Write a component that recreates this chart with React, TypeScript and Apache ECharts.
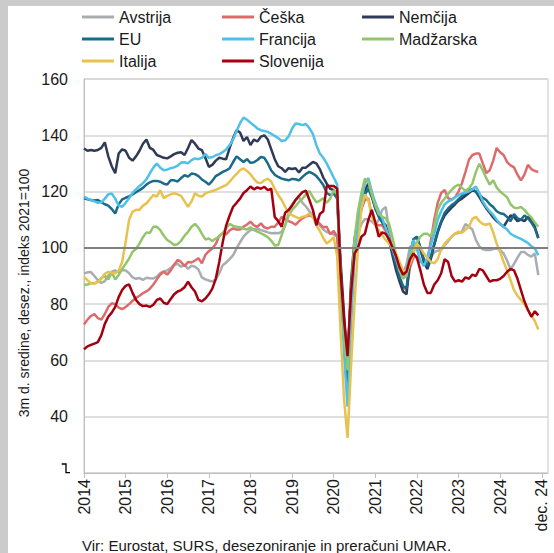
import React, { useEffect, useRef } from "react";
import * as echarts from "echarts";

const FONT = "'Liberation Sans', Arial, sans-serif";
const TEXT = "#1a1a1a";

const names = ["Avstrija", "Češka", "Nemčija", "EU", "Francija", "Madžarska", "Italija", "Slovenija"];
const colors = ["#a9acb1", "#de6b6b", "#2e3a56", "#1a6b8a", "#4fc0e8", "#93c66c", "#e8c24e", "#a5000f"];

const avstrija = [
  90.9, 91.3, 91.4, 90.0, 88.5, 87.5, 88.2, 90.2, 91.5, 92.0,
  91.4, 92.1, 92.0, 91.0, 89.5, 89.0, 89.3, 88.6, 89.4, 89.2,
  89.1, 89.8, 91.0, 91.6, 92.0, 92.8, 94.0, 94.3, 93.3, 94.0,
  92.5, 93.7, 93.3, 92.3, 89.5, 88.8, 88.4, 88.0, 88.8, 91.0,
  93.8, 94.8, 96.0, 97.4, 99.8, 102.0, 104.0, 105.3, 106.3, 106.7,
  106.8, 106.3, 106.0, 105.5, 105.2, 105.3, 105.2, 105.7, 108.0, 112.5,
  115.5, 117.0, 118.0, 116.0, 114.7, 113.0, 111.5, 110.0, 108.0, 106.5,
  105.6, 105.3, 104.8, 104.0, 88.0, 68.0, 57.5, 82.0, 100.0, 105.0,
  108.5, 110.3, 110.0, 109.3, 108.2, 110.0, 113.5, 114.5, 106.0, 98.0,
  93.5, 92.2, 91.2, 94.0, 100.5, 100.4, 100.4, 98.5, 95.5, 93.5,
  96.5, 98.5, 99.0, 99.2, 101.0, 102.3, 104.0, 105.0, 105.3, 105.8,
  108.5, 107.5, 106.5, 102.8, 100.5, 99.5, 99.2, 99.2, 99.6, 99.8,
  99.2, 98.0, 95.5, 92.3, 94.3, 96.5, 98.5, 98.5, 97.5, 96.9, 98.0, 90.3,
];

const ceska = [
  72.8, 74.5, 75.8, 76.5, 75.0, 74.5, 76.5, 79.0, 80.3, 80.0,
  78.8, 78.2, 79.0, 80.0, 81.2, 82.2, 83.0, 83.9, 84.5, 85.5,
  87.0, 88.8, 90.5, 91.5, 90.5, 92.0, 94.0, 95.7, 95.0, 93.5,
  95.0, 94.8, 95.5, 96.3, 94.5, 97.5, 98.8, 99.8, 101.4, 104.2,
  105.2, 104.8, 106.2, 106.9, 106.5, 106.5, 107.5, 108.3, 109.3, 108.0,
  107.5, 108.7, 107.3, 106.9, 107.5, 107.5, 109.0, 111.0, 110.2, 109.5,
  109.0, 108.2, 109.5, 110.5, 111.2, 111.6, 111.0, 110.0, 108.5, 107.3,
  107.5, 104.8, 106.0, 104.0, 86.0, 67.0, 58.0, 85.0, 101.0, 109.0,
  114.0, 117.0, 117.6, 111.5, 108.5, 108.0, 108.0, 106.0, 102.5, 98.5,
  94.5, 90.0, 86.0, 85.0, 93.0, 96.5, 97.0, 95.0, 94.5, 95.5,
  102.5, 110.0, 116.0, 119.5, 120.6, 117.6, 117.2, 118.0, 120.0, 123.0,
  127.0, 131.3, 133.0, 133.5, 133.5, 130.0, 126.6, 127.6, 131.0, 135.5,
  134.0, 133.0, 130.5, 129.3, 128.6, 126.0, 124.0, 126.0, 129.5, 128.0, 127.3, 127.0,
];

const nemcija = [
  135.3, 134.5, 134.8, 134.5, 134.8, 135.5, 137.5, 132.5, 129.0, 126.5,
  133.5, 135.0, 134.5, 132.0, 131.0, 132.5, 134.5, 137.0, 138.5, 135.5,
  134.8, 133.0, 132.5, 132.0, 131.8, 132.5, 133.3, 133.8, 134.0, 133.0,
  135.5, 138.3, 137.0, 135.3, 134.7, 132.0, 128.8, 129.5, 131.0, 132.0,
  131.7, 131.5, 135.5, 139.0, 141.8, 141.0, 138.0, 139.4, 136.5, 138.5,
  137.8, 139.5, 140.0, 138.5, 135.0, 131.5, 129.0, 128.3, 127.0, 128.3,
  128.0, 128.3, 126.8, 128.5, 128.5, 129.5, 130.5, 130.0, 128.0, 125.0,
  122.8, 121.0, 120.5, 118.5, 95.0, 76.0, 59.0, 88.0, 103.0, 110.0,
  116.0, 120.5, 122.8, 119.0, 114.0, 111.5, 109.5, 108.0, 102.5, 97.0,
  92.0, 88.0, 84.5, 83.5, 96.0, 103.0, 104.0, 100.0, 95.0, 92.5,
  96.0, 101.0, 105.5, 109.0, 111.5, 113.0, 114.3, 115.5, 116.8, 117.5,
  118.5, 119.5, 120.5, 120.0, 118.0, 116.0, 114.0, 112.5, 110.8, 109.5,
  108.5, 107.5, 109.5, 111.5, 111.0, 109.5, 110.0, 109.5, 111.0, 110.0, 107.5, 103.5,
];

const eu = [
  117.6, 117.3, 117.0, 116.8, 117.0, 116.2, 115.5, 115.0, 113.8, 112.2,
  115.5, 117.2, 117.8, 118.3, 119.0, 119.8, 120.5, 121.3, 122.5, 123.3,
  123.8, 123.8, 123.5, 122.8, 122.5, 124.0, 124.0, 123.6, 124.8, 125.8,
  125.3, 126.4, 126.2, 125.5, 124.3, 123.5, 122.5, 123.8, 125.5, 126.2,
  127.0, 127.5, 128.3, 130.5, 132.5, 131.5, 130.5, 131.5, 130.2, 130.4,
  131.2, 132.3, 132.0, 130.0, 127.5, 126.0, 125.2, 124.6, 124.3, 124.0,
  124.5, 124.4, 124.0, 125.2, 126.3, 127.0, 126.4, 125.5, 124.0, 122.3,
  119.5, 118.7, 119.3, 117.5, 92.0, 70.0, 52.0, 80.0, 99.0, 107.0,
  114.0, 119.0, 121.0, 118.0, 114.0, 111.0, 109.0, 107.0, 103.5, 98.5,
  94.0, 89.5, 86.5, 85.5, 97.0, 103.0, 104.0, 100.0, 96.0, 93.5,
  97.0, 101.5, 106.0, 109.5, 112.5, 114.0, 115.2, 116.0, 117.3, 118.5,
  119.8, 120.5, 120.8, 120.0, 118.8, 117.8, 117.0, 115.5, 114.5, 113.0,
  112.3, 112.0, 111.0, 109.5, 112.0, 110.5, 110.0, 111.5, 110.5, 109.0, 107.0, 103.5,
];

const francija = [
  118.2, 117.5, 117.0, 116.5, 116.0, 116.2, 117.5, 119.0, 119.3, 117.5,
  115.0, 114.6, 116.0, 117.6, 119.5, 120.8, 122.0, 123.0, 124.3, 126.5,
  128.5, 130.0, 128.5, 127.6, 127.8, 128.3, 128.6, 129.2, 130.3, 130.4,
  130.0, 131.2, 131.8, 131.5, 132.0, 133.3, 132.0, 132.2, 132.9, 133.3,
  134.0, 135.0, 136.5, 138.5, 141.5, 144.3, 146.3, 145.5, 144.5, 143.5,
  142.4, 141.8, 141.5, 141.2, 140.5, 139.8, 139.0, 138.0, 138.2, 139.6,
  142.4, 144.2, 144.0, 143.6, 144.0, 142.5, 140.5, 136.5, 133.5, 132.0,
  130.0, 127.5, 125.0, 122.5, 88.0, 62.0, 43.6, 72.0, 96.0, 107.0,
  117.0, 122.9, 124.8, 120.0, 116.0, 113.0, 110.5, 107.0, 103.5, 99.5,
  96.0, 92.0, 89.7, 91.0, 98.0, 102.8, 99.5, 95.5, 93.5, 96.5,
  101.0, 105.0, 110.0, 113.0, 115.5, 116.5, 117.0, 118.0, 118.8, 119.3,
  119.7, 120.0, 120.8, 121.8, 119.5, 116.5, 114.5, 113.0, 111.7, 110.0,
  108.5, 107.5, 106.5, 105.0, 104.3, 103.7, 103.2, 102.5, 101.8, 100.5, 99.8, 97.4,
];

const madzarska = [
  86.8, 87.0, 87.4, 87.4, 88.0, 89.3, 90.0, 88.8, 91.3, 88.8,
  90.3, 92.5, 94.3, 96.2, 98.6, 99.6, 101.5, 103.8, 105.5, 105.3,
  107.5, 107.5, 106.3, 104.3, 102.8, 102.0, 101.0, 101.3, 102.5, 104.3,
  105.7, 107.5, 108.5, 107.2, 105.0, 103.0, 103.3, 102.4, 103.3, 104.0,
  105.3, 107.0, 108.5, 107.8, 107.5, 107.3, 106.8, 106.5, 107.3, 106.3,
  105.8, 105.2, 104.5, 103.8, 102.5, 100.8, 101.0, 104.5, 108.0, 111.5,
  113.5, 114.8, 116.3, 117.5, 119.0, 120.2, 118.0, 116.2, 116.8, 117.6,
  116.0, 117.5, 120.5, 119.0, 90.0, 70.0, 56.5, 84.0, 103.0, 113.0,
  119.5, 124.6, 123.5, 119.0, 115.0, 112.0, 111.0, 110.5, 108.5, 103.5,
  97.5, 92.0, 89.0, 90.0, 97.0, 100.0, 101.8, 104.0, 105.0, 105.0,
  104.0, 107.5, 113.5, 116.0, 117.5, 119.2, 120.6, 121.8, 122.5, 121.3,
  120.2, 121.2, 122.9, 127.0, 129.9, 127.5, 124.8, 122.5, 124.0, 121.5,
  120.0, 119.0, 118.0, 115.5, 114.3, 114.1, 114.5, 113.5, 112.0, 110.8, 109.0, 107.5,
];

const italija = [
  89.7, 88.5, 87.4, 87.3, 87.8, 89.0, 90.8, 91.5, 91.2, 91.0,
  92.0, 95.0, 102.0, 110.0, 112.8, 113.5, 113.5, 115.0, 115.8, 117.3,
  118.8, 118.2, 120.5, 117.6, 118.5, 119.0, 119.4, 119.0, 118.5, 116.5,
  114.6, 116.5, 119.4, 118.5, 118.2, 119.4, 119.8, 120.2, 120.6, 121.2,
  121.8, 122.3, 123.5, 125.0, 126.3, 127.6, 128.2, 127.3, 126.2, 124.5,
  123.2, 123.0, 124.0, 124.6, 123.5, 121.0, 118.8, 117.0, 114.6, 112.2,
  111.6, 111.0, 110.5, 111.0, 111.3, 112.2, 111.0, 108.0, 106.0, 103.5,
  101.5, 102.5, 103.8, 97.0, 70.0, 46.0, 32.5, 58.0, 80.0, 100.0,
  114.0, 119.0, 117.0, 111.0, 108.0, 106.3, 104.5, 102.8, 101.5, 100.0,
  98.0, 95.0, 92.0, 91.0, 94.5, 98.0, 101.5, 100.0, 98.0, 96.5,
  95.0, 94.5, 96.0, 99.5, 101.5, 102.8, 104.0, 105.0, 105.8, 105.3,
  106.5, 107.5, 110.3, 111.0, 109.5, 108.5, 108.2, 108.7, 105.5, 101.5,
  98.5, 95.0, 92.0, 88.5, 85.0, 83.0, 81.5, 80.0, 78.0, 76.0, 74.0, 71.0,
];

const slovenija = [
  64.0, 65.0, 65.5, 66.0, 66.5, 69.0, 73.0, 75.5, 77.0, 79.0,
  82.5, 85.0, 86.5, 87.0, 84.0, 81.5, 80.0, 79.3, 79.5, 79.0,
  79.8, 81.5, 82.0, 80.5, 80.0, 81.8, 83.5, 84.5, 85.0, 86.0,
  88.0, 86.0, 84.5, 81.5, 81.0, 82.0, 83.5, 85.5, 89.0, 95.0,
  102.0, 108.0, 111.5, 114.6, 116.0, 117.5, 119.5, 120.5, 121.8, 120.8,
  121.5, 121.0, 121.7, 120.5, 121.0, 111.0, 109.5, 107.5, 112.5, 113.5,
  115.0, 117.0, 118.5, 119.8, 120.3, 117.0, 113.5, 108.0, 112.0, 113.0,
  122.0, 122.0, 122.0, 121.0, 91.0, 74.0, 61.5, 84.0, 98.0, 100.0,
  104.0, 105.0, 110.0, 113.5, 109.0, 104.0, 105.5, 105.0, 103.0, 100.0,
  97.0, 93.0, 90.5, 91.5, 96.0, 98.0, 96.5, 92.0, 87.0, 84.0,
  84.0, 87.0, 88.5, 91.0, 96.0, 95.0, 90.0, 88.0, 88.5, 88.0,
  89.5, 89.0, 90.5, 90.0, 92.5, 92.0, 90.0, 88.0, 88.5, 88.5,
  89.0, 90.0, 91.5, 92.5, 92.0, 89.0, 85.0, 81.0, 78.0, 75.5, 77.5, 76.0,
];

const seriesValues = [avstrija, ceska, nemcija, eu, francija, madzarska, italija, slovenija];

const tickPositions = [0, 12, 24, 36, 48, 60, 72, 84, 96, 108, 120, 132];
const tickLabels = ["2014", "2015", "2016", "2017", "2018", "2019", "2020", "2021", "2022", "2023", "2024", "dec. 24"];

const yMin = 20;
const yMax = 160;
const yStep = 20;
const referenceLevel = 100;

const yTitle = "3m d. sredine, desez., indeks 2021=100";
const sourceNote = "Vir: Eurostat, SURS, desezoniranje in preračuni UMAR.";

const legendColumns = [
  ["Avstrija", "EU", "Italija"],
  ["Češka", "Francija", "Slovenija"],
  ["Nemčija", "Madžarska"],
];

export default function App() {
  const ref = useRef<HTMLDivElement>(null);

  useEffect(() => {
    if (!ref.current) return;
    const chart = echarts.init(ref.current, null, { renderer: "svg" });

    const lineSeries = names.map((name, k) => ({
      name,
      type: "line",
      data: seriesValues[k].map((v, i) => [i, v]),
      showSymbol: false,
      symbol: "none",
      smooth: false,
      lineStyle: { width: 2.5, color: colors[k] },
      itemStyle: { color: colors[k] },
      emphasis: { disabled: true },
      z: 3,
    }));

    const refLine = {
      name: "__ref",
      type: "line",
      data: [],
      showSymbol: false,
      z: 2,
      markLine: {
        silent: true,
        symbol: ["none", "none"],
        label: { show: false },
        lineStyle: { color: "#7f7f7f", width: 2, type: "solid" },
        data: [{ yAxis: referenceLevel }],
      },
    };

    const legendLefts = [82, 222, 362];
    const legends = legendColumns.map((col, c) => ({
      data: col,
      left: legendLefts[c],
      top: 8,
      orient: "vertical",
      icon: "rect",
      itemWidth: 32,
      itemHeight: 3,
      itemGap: 4,
      padding: 0,
      selectedMode: false,
      textStyle: { fontSize: 16, lineHeight: 18, fontFamily: FONT, color: TEXT },
    }));

    const option = {
      animation: false,
      backgroundColor: "#ffffff",
      textStyle: { fontFamily: FONT },
      legend: legends,
      grid: {
        left: 84,
        top: 79,
        width: 464,
        height: 394,
        show: true,
        borderColor: "#c8c8c8",
        borderWidth: 1,
        backgroundColor: "transparent",
        containLabel: false,
      },
      xAxis: {
        type: "value",
        min: 0,
        max: 133.8,
        axisLine: { show: true, lineStyle: { color: "#bfbfbf", width: 1 } },
        axisTick: {
          show: true,
          customValues: tickPositions,
          length: 5,
          lineStyle: { color: "#bfbfbf" },
        },
        axisLabel: {
          customValues: tickPositions,
          rotate: 90,
          margin: 6,
          fontSize: 16,
          fontFamily: FONT,
          color: TEXT,
          formatter: (v: number) => {
            const idx = tickPositions.indexOf(Math.round(v));
            return idx >= 0 && Math.abs(v - tickPositions[idx]) < 0.01 ? tickLabels[idx] : "";
          },
        },
        splitLine: { show: false },
      },
      yAxis: {
        type: "value",
        min: yMin,
        max: yMax,
        interval: yStep,
        axisLine: { show: true, lineStyle: { color: "#bfbfbf", width: 1 } },
        axisTick: { show: false },
        axisLabel: {
          margin: 16,
          fontSize: 16,
          fontFamily: FONT,
          color: TEXT,
          formatter: (v: number) => (v === yMin ? "" : String(v)),
        },
        splitLine: { show: true, lineStyle: { color: "#d4d4d4", width: 1.5 } },
      },
      graphic: [
        { type: "rect", silent: true, shape: { x: 0, y: 0, width: 8, height: 553 }, style: { fill: "#cbcbcb" } },
        { type: "rect", silent: true, shape: { x: 0, y: 0, width: 554, height: 6 }, style: { fill: "#cbcbcb" } },
        {
          type: "text",
          silent: true,
          x: 24,
          y: 293,
          rotation: Math.PI / 2,
          style: {
            text: yTitle,
            fontSize: 14,
            fontFamily: FONT,
            fill: TEXT,
            align: "center",
            verticalAlign: "middle",
            textAlign: "center",
            textVerticalAlign: "middle",
          },
        },
        {
          type: "text",
          silent: true,
          x: 82,
          y: 545,
          style: {
            text: sourceNote,
            fontSize: 15,
            fontFamily: FONT,
            fill: TEXT,
            align: "left",
            verticalAlign: "middle",
            textAlign: "left",
            textVerticalAlign: "middle",
          },
        },
        {
          type: "polyline",
          silent: true,
          shape: { points: [[61.7, 464], [66, 464], [66, 472.7], [70, 472.7]] },
          style: { stroke: "#000000", lineWidth: 1.3, fill: null },
        },
      ],
      series: [refLine, ...lineSeries],
    };

    chart.setOption(option as any);
    return () => chart.dispose();
  }, []);

  return (
    <div
      ref={ref}
      style={{ position: "fixed", left: 0, top: 0, width: 554, height: 553, background: "#ffffff" }}
    />
  );
}
